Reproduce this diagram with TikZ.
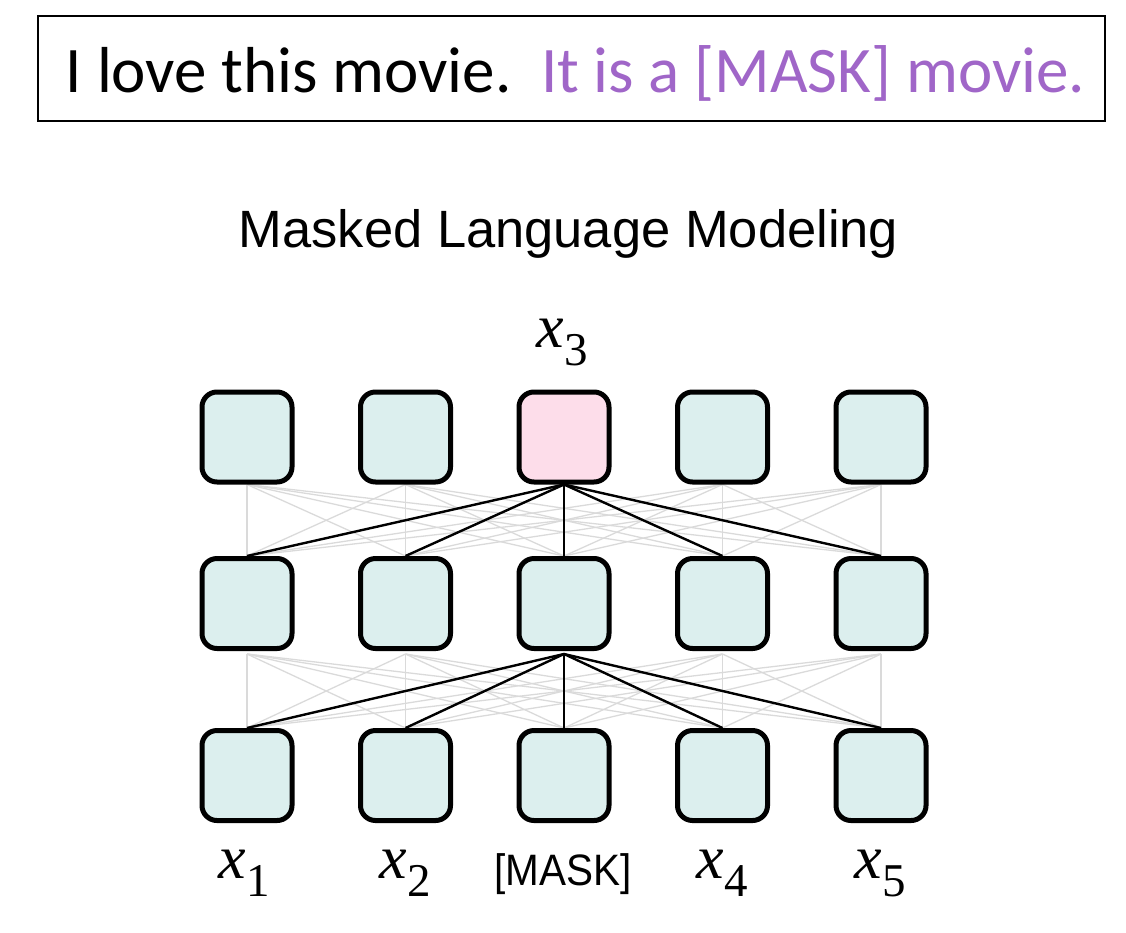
\documentclass[tikz,border=0pt]{standalone}
\usepackage{fontspec}
\usepackage{graphicx}
\setmainfont{Liberation Serif}
\newfontfamily\calibrifont{Carlito}
\newfontfamily\helvfont{Liberation Sans}
\usetikzlibrary{backgrounds,calc}
\definecolor{cellteal}{RGB}{220,239,238}
\definecolor{cellpink}{RGB}{253,221,234}
\definecolor{mlmpurple}{RGB}{160,102,200}
\definecolor{linegray}{RGB}{218,218,218}
\newcommand{\xlab}[1]{\fontsize{62}{64}\selectfont\textit{x}\raisebox{-18pt}{\fontsize{47}{48}\selectfont #1}}
\tikzset{
  cell/.style={draw=black, line width=5pt, rounded corners=15pt, minimum width=90pt, minimum height=90pt, inner sep=0pt},
  grayline/.style={draw=linegray, line width=1.3pt},
  blackline/.style={draw=black, line width=2.4pt},
  sentframe/.style={draw=black, line width=2pt, minimum width=1067pt, minimum height=105pt, inner sep=0pt},
}
\begin{document}
\begin{tikzpicture}[x=1pt,y=-1pt]
\useasboundingbox (0,0) rectangle (1126,932);
% sentence box
\node[sentframe] (frame) at (571.5,68.5) {};
\node[anchor=base, inner sep=0pt] (sent) at (575.5,92)
  {\calibrifont\fontsize{65}{70}\selectfont I love this movie.\ \ \textcolor{mlmpurple}{It is a [MASK] movie.}};
% title
\node[anchor=base, inner sep=0pt] (title) at (568.5,247)
  {\helvfont\fontsize{52.5}{56}\selectfont Masked Language Modeling};
% cells
\foreach \i/\x/\f in {1/247/cellteal,2/405.5/cellteal,3/564/cellpink,4/722.5/cellteal,5/881/cellteal}{
  \node[cell, fill=\f] (t\i) at (\x,437) {};
  \node[cell, fill=cellteal] (m\i) at (\x,603.5) {};
  \node[cell, fill=cellteal] (b\i) at (\x,775.5) {};
}
% connectors
\begin{scope}[on background layer]
  \foreach \i in {1,...,5}{
    \foreach \j in {1,...,5}{
      \draw[grayline] (t\i.south) -- (m\j.north);
      \draw[grayline] ($(m\i.south)+(0,3)$) -- (b\j.north);
    }
  }
  \foreach \j in {1,...,5}{
    \draw[blackline] (t3.south) -- (m\j.north);
    \draw[blackline] ($(m3.south)+(0,3)$) -- (b\j.north);
  }
\end{scope}
% labels
\node[anchor=base, inner sep=0pt] (lx3) at (562,347) {\xlab{3}};
\node[anchor=base, inner sep=0pt] (lx1) at (244,878) {\xlab{1}};
\node[anchor=base, inner sep=0pt] (lx2) at (405,878) {\xlab{2}};
\node[anchor=base, inner sep=0pt] (lmask) at (563,885) {\helvfont\fontsize{44}{46}\selectfont\scalebox{0.92}[1]{[MASK]}};
\node[anchor=base, inner sep=0pt] (lx4) at (722,878) {\xlab{4}};
\node[anchor=base, inner sep=0pt] (lx5) at (880,878) {\xlab{5}};
\end{tikzpicture}
\end{document}
